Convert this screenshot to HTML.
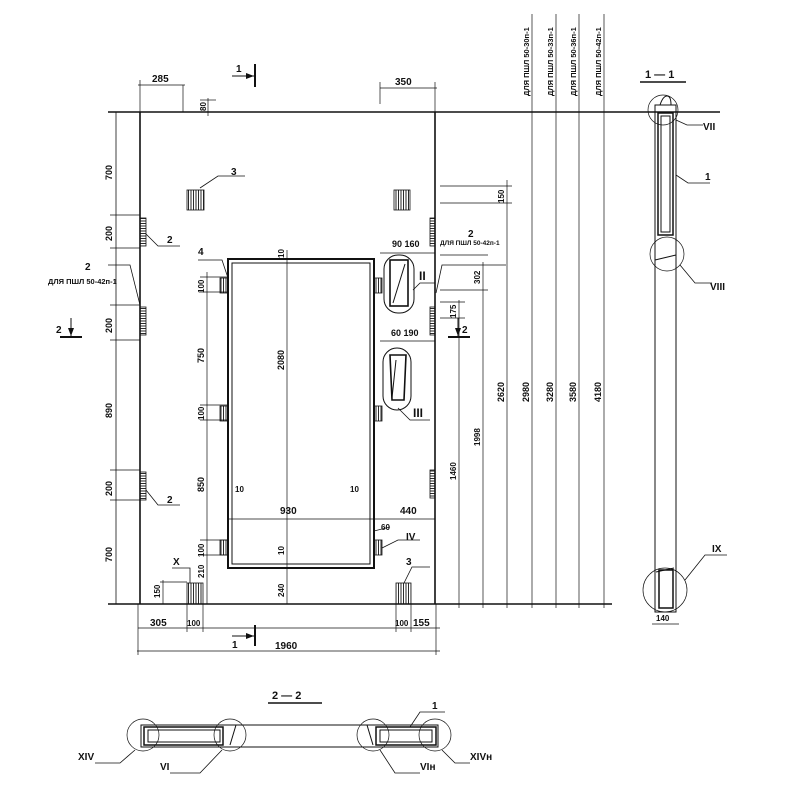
<!DOCTYPE html>
<html><head><meta charset="utf-8"><style>
html,body{margin:0;padding:0;background:#fff}
svg{display:block}
text{font-family:"Liberation Sans Narrow","Liberation Sans",sans-serif;font-weight:bold;fill:#111}
</style></head><body>
<svg width="800" height="800" viewBox="0 0 800 800" xmlns="http://www.w3.org/2000/svg">
<defs>
<pattern id="h" width="2.5" height="4" patternUnits="userSpaceOnUse"><line x1="1" y1="0" x2="1" y2="4" stroke="#111" stroke-width="0.9"/></pattern>
<pattern id="hh" width="4" height="2.5" patternUnits="userSpaceOnUse"><line x1="0" y1="1" x2="4" y2="1" stroke="#111" stroke-width="0.9"/></pattern>
</defs>
<g stroke="#111" fill="none" stroke-width="1">
<line x1="108" y1="112" x2="720" y2="112" stroke-width="1.6"/>
<line x1="108" y1="604" x2="612" y2="604" stroke-width="1.6"/>
<line x1="140" y1="112" x2="140" y2="604" stroke-width="1.6"/>
<line x1="435" y1="112" x2="435" y2="604" stroke-width="1.6"/>
<rect x="228" y="259" width="146" height="309" stroke-width="2"/>
<rect x="232" y="263" width="138" height="301" stroke-width="1"/>
<line x1="287" y1="250" x2="287" y2="604" stroke-width="0.7"/>
<line x1="228" y1="519" x2="435" y2="519" stroke-width="0.7"/>
<line x1="116" y1="112" x2="116" y2="604" stroke-width="0.8"/>
<g stroke-width="0.7">
<line x1="110" y1="215" x2="140" y2="215"/><line x1="110" y1="248" x2="140" y2="248"/>
<line x1="110" y1="305" x2="140" y2="305"/><line x1="110" y1="340" x2="140" y2="340"/>
<line x1="110" y1="470" x2="140" y2="470"/><line x1="110" y1="500" x2="140" y2="500"/>
<line x1="207" y1="272" x2="207" y2="604"/>
<line x1="200" y1="277" x2="228" y2="277"/><line x1="200" y1="292" x2="228" y2="292"/>
<line x1="200" y1="405" x2="228" y2="405"/><line x1="200" y1="420" x2="228" y2="420"/>
<line x1="200" y1="540" x2="228" y2="540"/><line x1="200" y1="555" x2="228" y2="555"/>
<line x1="163" y1="580" x2="163" y2="604"/><line x1="160" y1="582" x2="187" y2="582"/>
<line x1="138" y1="628" x2="440" y2="628"/>
<line x1="137" y1="651" x2="440" y2="651"/>
<line x1="138" y1="604" x2="138" y2="655"/><line x1="436" y1="604" x2="436" y2="655"/>
<line x1="187" y1="604" x2="187" y2="632"/><line x1="203" y1="604" x2="203" y2="632"/>
<line x1="396" y1="604" x2="396" y2="632"/><line x1="411" y1="604" x2="411" y2="632"/>
<line x1="138" y1="85" x2="185" y2="85"/><line x1="183" y1="85" x2="183" y2="112"/>
<line x1="140" y1="80" x2="140" y2="112"/>
<line x1="380" y1="88" x2="437" y2="88"/><line x1="435" y1="82" x2="435" y2="112"/>
<line x1="380" y1="82" x2="380" y2="104"/>
<line x1="208" y1="98" x2="208" y2="116"/><line x1="200" y1="100" x2="216" y2="100"/>
<line x1="459" y1="300" x2="459" y2="608"/>
<line x1="483" y1="262" x2="483" y2="608"/>
<line x1="507" y1="180" x2="507" y2="608"/>
<line x1="532" y1="14" x2="532" y2="608"/>
<line x1="556" y1="14" x2="556" y2="608"/>
<line x1="579" y1="14" x2="579" y2="608"/>
<line x1="604" y1="14" x2="604" y2="608"/>
<line x1="440" y1="186" x2="512" y2="186"/><line x1="440" y1="203" x2="512" y2="203"/>
<line x1="440" y1="255" x2="488" y2="255"/><line x1="440" y1="290" x2="488" y2="290"/>
<line x1="440" y1="302" x2="465" y2="302"/><line x1="440" y1="318" x2="465" y2="318"/>
<line x1="380" y1="253" x2="435" y2="253"/><line x1="380" y1="341" x2="435" y2="341"/>
<line x1="374" y1="531" x2="390" y2="527"/>
</g>
<g fill="url(#hh)" stroke-width="0.8">
<rect x="140" y="218" width="6" height="28"/><rect x="140" y="307" width="6" height="28"/><rect x="140" y="472" width="6" height="28"/>
<rect x="430" y="218" width="5" height="28"/><rect x="430" y="307" width="5" height="28"/><rect x="430" y="470" width="5" height="28"/>
</g>
<g fill="url(#h)" stroke-width="0.8">
<rect x="187" y="190" width="17" height="20"/><rect x="394" y="190" width="16" height="20"/>
<rect x="187" y="583" width="16" height="21"/><rect x="396" y="583" width="15" height="21"/>
<rect x="220" y="278" width="8" height="15"/><rect x="220" y="406" width="8" height="15"/><rect x="220" y="540" width="8" height="15"/>
<rect x="374" y="278" width="8" height="15"/><rect x="374" y="406" width="8" height="15"/><rect x="374" y="540" width="8" height="15"/>
</g>
<rect x="384" y="255" width="30" height="58" rx="14"/>
<rect x="390" y="260" width="18" height="46" stroke-width="1.6"/>
<line x1="393" y1="303" x2="405" y2="264"/>
<rect x="383" y="348" width="28" height="62" rx="14"/>
<path d="M390 355 L406 355 L404 400 L392 400 Z" stroke-width="1.6"/>
<line x1="396" y1="360" x2="392" y2="398"/>
<g stroke-width="0.8">
<polyline points="200,188 218,176 245,176"/>
<polyline points="146,234 158,246 180,246"/>
<polyline points="146,490 158,505 180,505"/>
<polyline points="228,278 222,260 198,260"/>
<polyline points="108,265 130,265 140,305"/>
<polyline points="436,293 442,265 506,265"/>
<polyline points="413,290 420,283 435,283"/>
<polyline points="398,408 410,420 430,420"/>
<polyline points="382,548 398,540 420,540"/>
<polyline points="404,583 412,567 430,567"/>
<polyline points="172,568 190,568 190,583"/>
</g>
<g stroke-width="2">
<line x1="255" y1="64" x2="255" y2="87"/><line x1="255" y1="625" x2="255" y2="646"/>
<line x1="60" y1="337" x2="82" y2="337"/><line x1="448" y1="337" x2="470" y2="337"/>
</g>
<g stroke-width="1">
<line x1="232" y1="76" x2="254" y2="76"/><line x1="232" y1="636" x2="254" y2="636"/>
<line x1="71" y1="318" x2="71" y2="336"/><line x1="458" y1="318" x2="458" y2="336"/>
</g>
<g fill="#111" stroke="none">
<path d="M254 76 L246 73 L246 79 Z"/><path d="M254 636 L246 633 L246 639 Z"/>
<path d="M71 336 L68 328 L74 328 Z"/><path d="M458 336 L455 328 L461 328 Z"/>
</g>
<line x1="640" y1="82" x2="686" y2="82" stroke-width="1.5"/>
<rect x="655" y="105" width="21" height="507"/>
<rect x="658" y="113" width="15" height="122" stroke-width="1.5"/>
<rect x="661" y="116" width="9" height="116"/>
<rect x="659" y="570" width="14" height="38" stroke-width="1.5"/>
<path d="M660 105 Q663 96 667 96 Q671 96 671 105"/>
<circle cx="663" cy="110" r="15" stroke-width="0.7"/>
<circle cx="667" cy="254" r="17" stroke-width="0.7"/>
<circle cx="665" cy="590" r="22" stroke-width="0.7"/>
<line x1="655" y1="260" x2="676" y2="255"/>
<line x1="656" y1="572" x2="674" y2="568"/>
<g stroke-width="0.8">
<polyline points="676,120 687,125 703,125"/>
<polyline points="676,175 688,183 710,183"/>
<polyline points="680,265 695,283 712,283"/>
<polyline points="685,580 705,555 727,555"/>
<line x1="652" y1="624" x2="679" y2="624"/>
</g>
<line x1="268" y1="703" x2="322" y2="703" stroke-width="1.5"/>
<rect x="141" y="725" width="297" height="22"/>
<rect x="144" y="727" width="79" height="18" stroke-width="1.5"/>
<rect x="148" y="730" width="72" height="12"/>
<rect x="376" y="727" width="60" height="18" stroke-width="1.5"/>
<rect x="380" y="730" width="52" height="12"/>
<circle cx="143" cy="735" r="16" stroke-width="0.7"/>
<circle cx="230" cy="735" r="16" stroke-width="0.7"/>
<circle cx="373" cy="735" r="16" stroke-width="0.7"/>
<circle cx="435" cy="735" r="16" stroke-width="0.7"/>
<line x1="236" y1="725" x2="230" y2="745"/><line x1="367" y1="725" x2="373" y2="745"/>
<g stroke-width="0.8">
<polyline points="135,750 120,763 95,763"/>
<polyline points="222,750 200,773 170,773"/>
<polyline points="380,750 395,773 420,773"/>
<polyline points="442,750 455,763 470,763"/>
<polyline points="410,727 420,712 445,712"/>
</g>
</g>
<g font-size="10">
<text x="152" y="82">285</text><text x="395" y="85">350</text>
<text x="150" y="626">305</text><text x="187" y="626" font-size="8">100</text>
<text x="395" y="626" font-size="8">100</text><text x="413" y="626">155</text>
<text x="275" y="649">1960</text>
<text x="280" y="514">930</text><text x="400" y="514">440</text>
<text x="235" y="492" font-size="8">10</text><text x="350" y="492" font-size="8">10</text>
<text x="381" y="530" font-size="8">60</text>
<text x="392" y="247" font-size="9">90 160</text>
<text x="391" y="336" font-size="9">60 190</text>
<text x="231" y="175">3</text><text x="406" y="565">3</text>
<text x="167" y="243">2</text><text x="167" y="503">2</text>
<text x="198" y="255">4</text>
<text x="85" y="270">2</text><text x="48" y="284" font-size="7.5">ДЛЯ ПШЛ 50-42п-1</text>
<text x="468" y="237">2</text><text x="440" y="245" font-size="6.5">ДЛЯ ПШЛ 50-42п-1</text>
<text x="236" y="72">1</text><text x="232" y="648">1</text>
<text x="56" y="333">2</text><text x="462" y="333">2</text>
<text x="173" y="565">X</text>
<text x="419" y="280" font-size="12" font-family="Liberation Serif">II</text>
<text x="413" y="417" font-size="12" font-family="Liberation Serif">III</text>
<text x="406" y="540" font-size="10" font-family="Liberation Serif">IV</text>
<text x="645" y="78" font-size="11">1 — 1</text>
<text x="703" y="130" font-size="10" font-family="Liberation Serif">VII</text>
<text x="705" y="180">1</text>
<text x="710" y="290" font-size="10" font-family="Liberation Serif">VIII</text>
<text x="712" y="552" font-size="10" font-family="Liberation Serif">IX</text>
<text x="656" y="621" font-size="8">140</text>
<text x="272" y="699" font-size="11">2 — 2</text>
<text x="432" y="709">1</text>
<text x="78" y="760" font-size="10" font-family="Liberation Serif">XIV</text>
<text x="160" y="770" font-size="10" font-family="Liberation Serif">VI</text>
<text x="420" y="770" font-size="10" font-family="Liberation Serif">VIн</text>
<text x="470" y="760" font-size="10" font-family="Liberation Serif">XIVн</text>
</g>
<g font-size="9">
<text transform="translate(112,180) rotate(-90)">700</text>
<text transform="translate(112,241) rotate(-90)">200</text>
<text transform="translate(112,333) rotate(-90)">200</text>
<text transform="translate(112,418) rotate(-90)">890</text>
<text transform="translate(112,496) rotate(-90)">200</text>
<text transform="translate(112,562) rotate(-90)">700</text>
<text transform="translate(204,293) rotate(-90)" font-size="8">100</text>
<text transform="translate(204,363) rotate(-90)">750</text>
<text transform="translate(204,420) rotate(-90)" font-size="8">100</text>
<text transform="translate(204,492) rotate(-90)">850</text>
<text transform="translate(204,557) rotate(-90)" font-size="8">100</text>
<text transform="translate(204,578) rotate(-90)" font-size="8">210</text>
<text transform="translate(160,598) rotate(-90)" font-size="8">150</text>
<text transform="translate(284,370) rotate(-90)">2080</text>
<text transform="translate(284,258) rotate(-90)" font-size="8">10</text>
<text transform="translate(284,555) rotate(-90)" font-size="8">10</text>
<text transform="translate(284,597) rotate(-90)" font-size="8">240</text>
<text transform="translate(206,111) rotate(-90)" font-size="8">80</text>
<text transform="translate(504,203) rotate(-90)" font-size="8">150</text>
<text transform="translate(480,284) rotate(-90)" font-size="8">302</text>
<text transform="translate(456,318) rotate(-90)" font-size="8">175</text>
<text transform="translate(456,480) rotate(-90)" font-size="8">1460</text>
<text transform="translate(480,446) rotate(-90)" font-size="8">1998</text>
<text transform="translate(504,402) rotate(-90)">2620</text>
<text transform="translate(529,402) rotate(-90)">2980</text>
<text transform="translate(553,402) rotate(-90)">3280</text>
<text transform="translate(576,402) rotate(-90)">3580</text>
<text transform="translate(601,402) rotate(-90)">4180</text>
<text transform="translate(529,96) rotate(-90)" font-size="7.5">ДЛЯ ПШЛ 50-30п-1</text>
<text transform="translate(553,96) rotate(-90)" font-size="7.5">ДЛЯ ПШЛ 50-33п-1</text>
<text transform="translate(576,96) rotate(-90)" font-size="7.5">ДЛЯ ПШЛ 50-36п-1</text>
<text transform="translate(601,96) rotate(-90)" font-size="7.5">ДЛЯ ПШЛ 50-42п-1</text>
</g>
</svg>
</body></html>
